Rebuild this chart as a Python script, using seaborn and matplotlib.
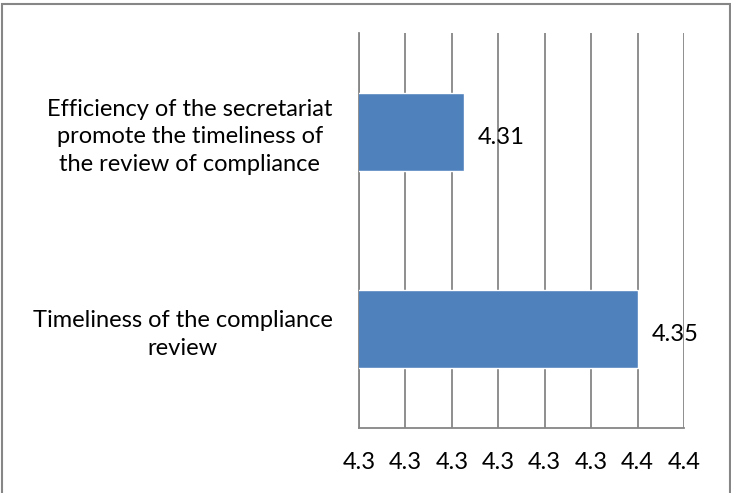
import matplotlib
matplotlib.use("Agg")
import matplotlib.pyplot as plt
import numpy as np
import pandas as pd
import seaborn as sns
from matplotlib.patches import Rectangle

# data
categories = ["Efficiency of the secretariat\npromote the timeliness of\nthe review of compliance",
              "Timeliness of the compliance\nreview"]
scores = [4.3126, 4.35]
score_labels = ["4.31", "4.35"]
x_ticks = [4.29, 4.30, 4.31, 4.32, 4.33, 4.34, 4.35, 4.36]
x_tick_labels = ["4.3", "4.3", "4.3", "4.3", "4.3", "4.3", "4.4", "4.4"]

df = pd.DataFrame({"item": categories, "score": scores})

sns.set_style("white")
plt.rcParams["font.family"] = ["Lato", "DejaVu Sans"]
plt.rcParams["text.color"] = "black"
plt.rcParams["xtick.labelcolor"] = "black"
plt.rcParams["ytick.labelcolor"] = "black"

fs = 17
grey = "#868686"
fig = plt.figure(figsize=(7.31, 4.93), dpi=100)
ax = fig.add_axes([359 / 731, 1 - 428 / 493, (684 - 359) / 731, (428 - 33) / 493])

sns.barplot(data=df, x="score", y="item", orient="h", color="#4F81BD",
            saturation=1, width=0.395, ax=ax, zorder=3)

ax.set_xlim(x_ticks[0], x_ticks[-1])
ax.set_ylim(1.5, -0.5)
ax.set_xticks(x_ticks)
ax.set_xticklabels(x_tick_labels, fontsize=fs, color="black")
ax.xaxis.grid(True, color=grey, linewidth=1.3, zorder=0)
ax.set_axisbelow(True)
ax.tick_params(axis="x", length=8, width=1.3, color=grey, pad=9, direction="out")

ax.set_yticks([0, 1])
ax.set_yticklabels(categories, fontsize=fs, multialignment="center",
                   linespacing=1.38, color="black")
ax.set_yticks([-0.5, 0.5, 1.5], minor=True)
ax.tick_params(axis="y", which="major", length=0, pad=19)
ax.tick_params(axis="y", which="minor", length=8, width=1.3, color=grey)
ax.set_xlabel("")
ax.set_ylabel("")

for side in ["top", "right"]:
    ax.spines[side].set_visible(False)
for side in ["left", "bottom"]:
    ax.spines[side].set_color(grey)
    ax.spines[side].set_linewidth(1.3)

for i, (v, lab) in enumerate(zip(scores, score_labels)):
    ax.annotate(lab, xy=(v, i), xytext=(10, -4), textcoords="offset points",
                ha="left", va="center", fontsize=fs, color="black", zorder=5)

fig.patches.append(Rectangle((1.5 / 731, -0.1), 728 / 731, 1 - 4 / 493 + 0.1,
                             transform=fig.transFigure, fill=False,
                             edgecolor=grey, linewidth=1.5))

fig.savefig("out.png", dpi=100)
